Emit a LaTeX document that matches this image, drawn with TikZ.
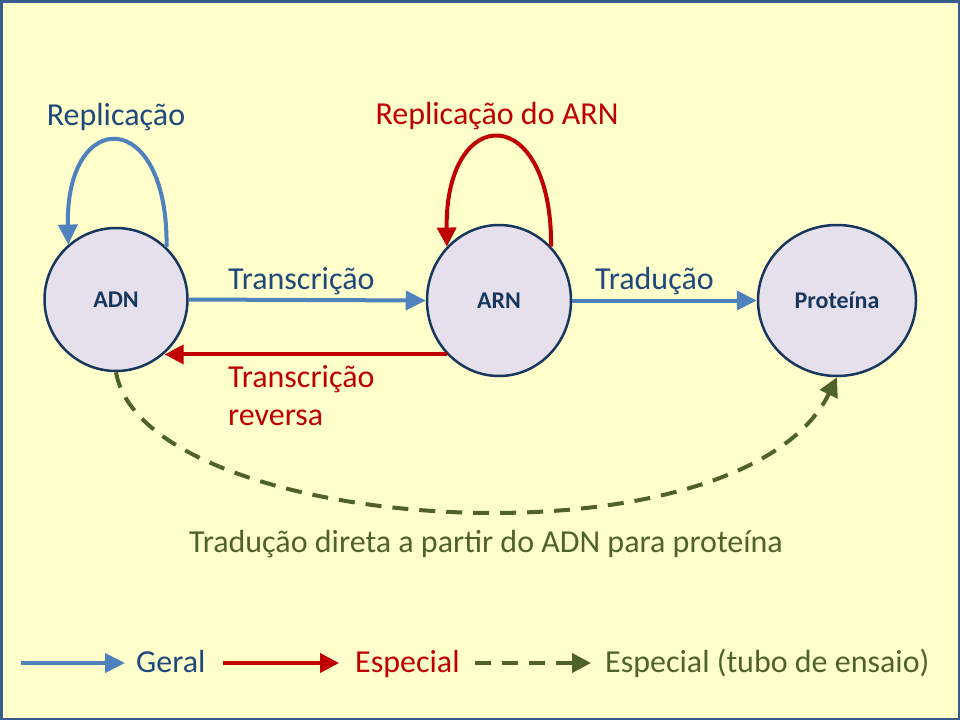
\documentclass[tikz,border=0pt]{standalone}
\usepackage{fontspec}
\setmainfont{Carlito}
\usetikzlibrary{arrows.meta,shapes.geometric}

\definecolor{fundo}{HTML}{FFFFCC}
\definecolor{moldura}{HTML}{385D8A}
\definecolor{azul}{HTML}{4F81BD}
\definecolor{azultexto}{HTML}{1F497D}
\definecolor{vermelho}{HTML}{C00000}
\definecolor{verde}{HTML}{4F6228}
\definecolor{lilas}{HTML}{E6E0EC}
\definecolor{marinho}{HTML}{17375E}

\tikzset{
  molecula/.style={ellipse, draw=marinho, line width=2.5pt, fill=lilas, text=marinho,
    font=\fontsize{24}{28}\selectfont\bfseries, inner sep=0pt},
  geral/.style={draw=azul, line width=4pt, -{Triangle[length=20pt,width=19pt]}},
  especial/.style={draw=vermelho, line width=4pt, -{Triangle[length=19pt,width=19pt]}},
  ensaio/.style={draw=verde, line width=4pt, dash pattern=on 16pt off 11pt,
    -{Triangle[length=19pt,width=19pt]}},
  rotulo/.style={font=\fontsize{32}{38}\selectfont, inner sep=0pt, anchor=base},
}

\begin{document}
\begin{tikzpicture}[x=1pt,y=-1pt]
			%%%%% FUNDO %%%%%
			\useasboundingbox (0,0) rectangle (960,720);
			\fill[fundo] (0,0) rectangle (960,720);
			\draw[moldura, line width=2.5pt] (1.25,1.25) rectangle (958.75,718.75);
			
			%%%%% MOLECULAS %%%%%
			\node[molecula, minimum width=143pt, minimum height=143pt] (ADN) at (116,299.5) {ADN};
			\node[molecula, minimum width=144pt, minimum height=151pt] (ARN) at (499,300.5) {ARN};
			\node[molecula, minimum width=158pt, minimum height=151pt] (PROT) at (837,300.5) {Proteína};
			
			%%%%% SETAS %%%%%
			\draw[geral] (ADN.east) -- (ARN.west);
			\draw[geral] (ARN.east) -- (PROT.west);
			\draw[especial] (ARN.226) -- (ARN.226 -| ADN.-48);
			
			\draw[geral] (ADN.46) .. controls +(2,-141) and +(-3,-138) .. (ADN.131);
			\draw[especial] (ARN.46) .. controls +(1,-146) and +(-2,-144) .. (ARN.134);
			
			\draw[ensaio] (ADN.south) .. controls (145,535) and (740,575) .. (PROT.south);
			
			%%%%% ROTULOS %%%%%
			\node[rotulo, text=azultexto] (lreplic) at (116,125) {Replicação};
			\node[rotulo, text=vermelho] (lreplicarn) at (497,124) {Replicação do ARN};
			\node[rotulo, text=azultexto, anchor=base west] (ltransc) at (228,289) {Transcrição};
			\node[rotulo, text=azultexto, anchor=base west] (ltrad) at (595,289) {Tradução};
			\node[rotulo, text=vermelho, anchor=base west] (lreversa) at (228,387) {Transcrição};
			\node[rotulo, text=vermelho, anchor=base west] (lreversa2) at (228,425) {reversa};
			\node[rotulo, text=verde] (ldireta) at (486,552) {Tradução direta a partir do ADN para proteína};
			
			%%%%% LEGENDA %%%%%
			\coordinate (g0) at (21,663);
			\coordinate (g1) at (125,663);
			\draw[geral] (g0) -- (g1);
			\node[rotulo, anchor=base west, text=azultexto] (lgeral) at (136,672) {Geral};
			
			\coordinate (e0) at (223,663);
			\coordinate (e1) at (339,663);
			\draw[especial] (e0) -- (e1);
			\node[rotulo, anchor=base west, text=vermelho] (lesp) at (355,672) {Especial};
			
			\coordinate (t0) at (475,663);
			\coordinate (t1) at (591,663);
			\draw[ensaio] (t0) -- (t1);
			\node[rotulo, anchor=base west, text=verde] (lensaio) at (605,672) {Especial (tubo de ensaio)};
			
			%%%%% FIM %%%%%
\end{tikzpicture}
\end{document}
